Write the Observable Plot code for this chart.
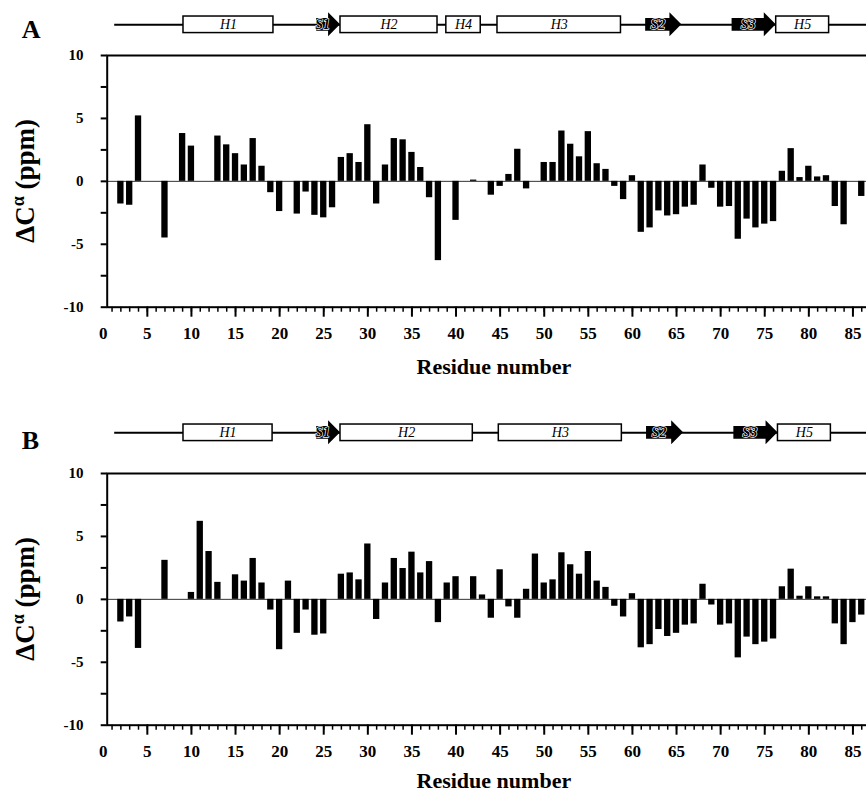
<!DOCTYPE html>
<html><head><meta charset="utf-8">
<script src="https://cdn.jsdelivr.net/npm/d3@7"></script>
<script src="https://cdn.jsdelivr.net/npm/@observablehq/plot@0.6"></script>
<style>
html,body{margin:0;padding:0;background:#fff;overflow:hidden;}
#wrap{position:relative;width:866px;height:793px;overflow:hidden;background:#fff;}
#wrap > svg{position:absolute;left:0;}
.letter{position:absolute;left:21.7px;font-family:"Liberation Serif","Times New Roman",serif;font-weight:bold;font-size:26px;line-height:26px;}
</style></head><body><div id="wrap"></div>
<script>
// ---------------- data ----------------
const residuesA = [2,3,4,7,9,10,13,14,15,16,17,18,19,20,22,23,24,25,26,27,28,29,30,31,32,33,34,35,36,37,38,40,42,44,45,46,47,48,50,51,52,53,54,55,56,57,58,59,60,61,62,63,64,65,66,67,68,69,70,71,72,73,74,75,76,77,78,79,80,81,82,83,84,86];
const valuesA = [-1.8,-1.9,5.2,-4.5,3.8,2.8,3.6,2.9,2.2,1.3,3.4,1.2,-0.9,-2.4,-2.6,-0.85,-2.7,-2.9,-2.1,1.9,2.2,1.5,4.5,-1.8,1.3,3.4,3.3,2.3,1.1,-1.3,-6.3,-3.1,0.1,-1.1,-0.4,0.55,2.55,-0.6,1.5,1.5,4.0,2.95,1.95,3.95,1.4,0.95,-0.4,-1.45,0.45,-4.05,-3.7,-2.35,-2.75,-2.65,-2.05,-1.9,1.3,-0.55,-2.05,-2.0,-4.6,-3.0,-3.7,-3.4,-3.2,0.8,2.6,0.3,1.2,0.35,0.45,-2.0,-3.45,-1.2];

const residuesB = [2,3,4,7,10,11,12,13,15,16,17,18,19,20,21,22,23,24,25,27,28,29,30,31,32,33,34,35,36,37,38,39,40,42,43,44,45,46,47,48,49,50,51,52,53,54,55,56,57,58,59,60,61,62,63,64,65,66,67,68,69,70,71,72,73,74,75,76,77,78,79,80,81,82,83,84,85,86];
const valuesB = [-1.8,-1.4,-3.9,3.1,0.55,6.2,3.8,1.35,1.95,1.45,3.25,1.3,-0.85,-4.0,1.45,-2.7,-0.85,-2.85,-2.75,2.0,2.1,1.55,4.4,-1.6,1.3,3.25,2.45,3.75,2.1,3.0,-1.85,1.3,1.8,1.8,0.35,-1.5,2.35,-0.6,-1.5,0.8,3.6,1.3,1.55,3.7,2.75,2.0,3.8,1.45,0.95,-0.55,-1.4,0.45,-3.85,-3.6,-2.4,-2.95,-2.7,-2.05,-1.95,1.2,-0.45,-2.05,-1.95,-4.65,-3.0,-3.6,-3.4,-3.15,1.0,2.4,0.25,1.0,0.2,0.2,-1.95,-3.6,-1.85,-1.25];

// secondary structure (residue ranges)
const ssNamesA = ["H1","S1","H2","H4","H3","S2","S3","H5"];
const ssTypesA = ["H","S","H","H","H","S","S","H"];
const ssStartA = [9.1,24.2,26.9,38.9,44.7,61.5,71.3,76.3];
const ssEndA   = [19.3,26.9,37.9,42.8,58.7,65.6,76.3,82.3];

const ssNamesB = ["H1","S1","H2","H3","S2","S3","H5"];
const ssTypesB = ["H","S","H","H","S","S","H"];
const ssStartB = [9.1,24.2,26.9,44.85,61.6,71.5,76.5];
const ssEndB   = [19.2,26.9,41.9,58.8,65.8,76.5,82.5];
const backboneStart = 1.3;

const xTickLabels = [0,5,10,15,20,25,30,35,40,45,50,55,60,65,70,75,80,85];
const xMajorTicks = [5,10,15,20,25,30,35,40,45,50,55,60,65,70,75,80,85];
const xMinorTicks = d3.range(1, 88);
const yTickLabels = [-10,-5,0,5,10];
const yTicks = [-10,-7.5,-5,-2.5,0,2.5,5,7.5,10];

// ---------------- layout ----------------
const W = 880;            // wider than the window: right edge cut like the reference
const ML = 106.7;
const pxPerRes = 8.82;
const xDomain = [0.45, 0.45 + (W - ML) / pxPerRes];
const FONT = '"Liberation Serif","Times New Roman",serif';

function chart(residues, values, titleDy) {
  const data = residues.map((r, i) => ({r, v: values[i]}));
  const p = Plot.plot({
    width: W, height: 390,
    marginTop: 55, marginBottom: 83.3, marginLeft: ML, marginRight: 0,
    style: `background: transparent; max-width: none; overflow: visible; font-family: ${FONT};`,
    x: {domain: xDomain, axis: null},
    y: {domain: [-10, 10], axis: null},
    marks: [
      Plot.ruleY([0], {stroke: "#333", strokeWidth: 1}),
      Plot.rect(data, {x1: d => d.r - 0.5, x2: d => d.r + 0.5, y1: 0, y2: "v", insetLeft: 1.25, insetRight: 1.25, fill: "black"}),
      Plot.frame({stroke: "black", strokeWidth: 2}),
      Plot.axisY(yTicks, {anchor: "left", tickSize: 6, strokeWidth: 2, tickFormat: () => "", label: null}),
      Plot.axisY(yTickLabels, {anchor: "left", tickSize: 0, tickPadding: 23.7, tickFormat: d => String(d), fontSize: 15, fontWeight: "bold", fill: "black", label: null}),
      Plot.axisX(xMinorTicks, {anchor: "bottom", tickSize: 5, strokeWidth: 1.5, tickFormat: () => "", label: null}),
      Plot.axisX(xMajorTicks, {anchor: "bottom", tickSize: 10, strokeWidth: 2, tickFormat: () => "", label: null}),
      Plot.axisX(xTickLabels, {anchor: "bottom", tickSize: 0, tickPadding: 19.3, tickFormat: d => String(d), fontSize: 17, fontWeight: "bold", fill: "black", label: null}),
      Plot.text(["Residue number"], {text: d => d, frameAnchor: "bottom", dy: titleDy, lineAnchor: "middle", fontSize: 22, fontWeight: "bold", fill: "black"})
    ]
  });
  const y0 = p.scale("y").apply(0);
  const t = d3.select(p).append("text")
    .attr("transform", `translate(33.5,${y0}) rotate(-90)`)
    .attr("text-anchor", "middle")
    .attr("font-family", FONT).attr("font-weight", "bold").attr("font-size", 27).attr("fill", "black");
  t.append("tspan").text("\u0394C");
  t.append("tspan").attr("font-size", 18).attr("dy", -10).text("\u03b1");
  t.append("tspan").attr("dy", 10).text(" (ppm)");
  return p;
}

function structure(names, types, starts, ends) {
  const ss = names.map((n, i) => ({name: n, type: types[i], start: starts[i], end: ends[i]}));
  const helices = ss.filter(d => d.type === "H");
  const strands = ss.filter(d => d.type === "S");
  const headLen = 1.35, bodyH = 0.53, headH = 1.0;
  const pts = strands.flatMap(d => {
    const hs = d.end - headLen;
    return [
      {name: d.name, x: d.start, y1: -bodyH, y2: bodyH},
      {name: d.name, x: hs, y1: -bodyH, y2: bodyH},
      {name: d.name, x: hs, y1: -headH, y2: headH},
      {name: d.name, x: d.end, y1: 0, y2: 0}
    ];
  });
  const lineY = 24.3;
  return Plot.plot({
    width: W, height: 50, marginTop: 0, marginBottom: 0, marginLeft: ML, marginRight: 0,
    style: `background: transparent; max-width: none; overflow: visible; font-family: ${FONT};`,
    x: {domain: xDomain, axis: null},
    y: {domain: [-1, 1], range: [lineY + 12, lineY - 12], axis: null},
    marks: [
      Plot.ruleY([0], {x1: backboneStart, x2: xDomain[1], stroke: "black", strokeWidth: 2}),
      Plot.areaY(pts, {x: "x", y1: "y1", y2: "y2", z: "name", fill: "black", curve: "linear"}),
      Plot.rect(helices, {x1: "start", x2: "end", y1: -0.69, y2: 0.69, fill: "white", stroke: "black", strokeWidth: 1.5}),
      Plot.text(helices, {x: d => (d.start + d.end) / 2, y: 0, text: "name", fontStyle: "italic", fontSize: 14, fill: "black"}),
      Plot.text(strands, {x: d => (d.start + d.end - headLen) / 2, y: 0, text: "name", fontStyle: "italic", fontWeight: "bold", fontSize: 14, fill: "#000", stroke: "#fff", strokeWidth: 1.3, paintOrder: "stroke"})
    ]
  });
}

const wrap = document.getElementById("wrap");
function place(node, top) { node.style.top = top + "px"; wrap.appendChild(node); }
place(chart(residuesA, valuesA, 60), 0);
place(structure(ssNamesA, ssTypesA, ssStartA, ssEndA), 0);
place(chart(residuesB, valuesB, 56), 418.3);
place(structure(ssNamesB, ssTypesB, ssStartB, ssEndB), 408.4);

function letter(txt, top) {
  const d = document.createElement("div");
  d.className = "letter"; d.textContent = txt; d.style.top = top + "px";
  wrap.appendChild(d);
}
letter("A", 16.5);
letter("B", 428.2);
</script>
</body></html>
